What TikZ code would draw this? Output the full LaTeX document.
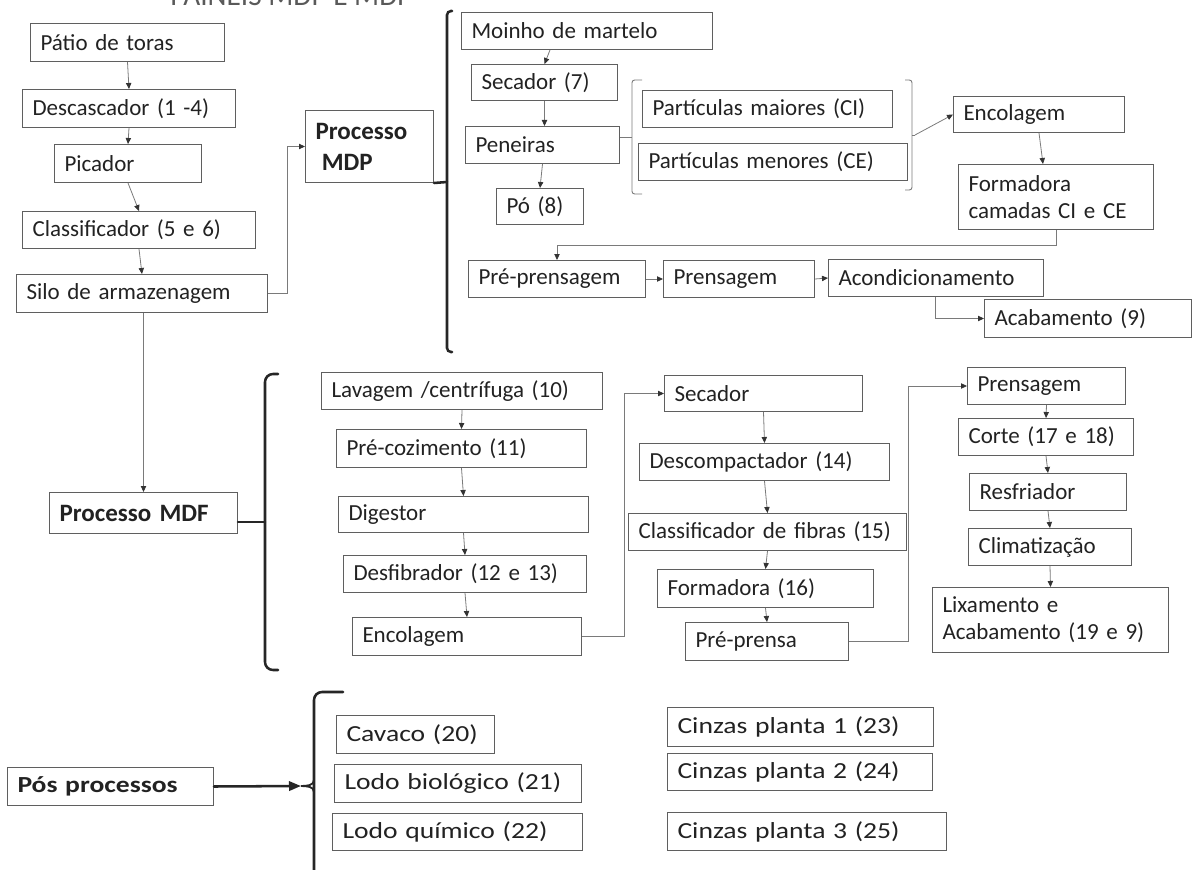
\documentclass[tikz,border=0pt]{standalone}
\usepackage{fontspec}
\setmainfont{Carlito}
\newfontfamily\widefont{Carlito}[FakeStretch=1.2]
\usetikzlibrary{arrows.meta,calc}
\definecolor{boxline}{HTML}{5F5F5F}
\definecolor{linkline}{HTML}{7A7A7A}
\definecolor{ink}{HTML}{222222}

\begin{document}
\begin{tikzpicture}[x=0.75pt, y=-0.75pt,
        box/.style args={#1/#2}{draw=boxline, line width=0.75pt, anchor=north west,
            align=left, inner xsep=7.5pt, inner ysep=0pt, text=ink,
            text width={(#1-20)*0.75pt}, minimum height={#2*0.75pt},
            font=\fontsize{17.25pt}{20.25pt}\selectfont},
        bold/.style={font=\fontsize{18.75pt}{23.25pt}\selectfont\bfseries},
        wide/.style={font=\fontsize{17.25pt}{20.25pt}\selectfont\widefont},
        widebold/.style={font=\fontsize{17.25pt}{20.25pt}\selectfont\widefont\bfseries},
        flow/.style={draw=linkline, line width=0.6pt,
            -{Triangle[length=4.5pt,width=4pt,color=black!80]}},
        brace/.style={draw=black!85, line width=1.9pt, line cap=round},
        thinbr/.style={draw=linkline, line width=0.7pt}
    ]
        \useasboundingbox (0,0) rectangle (1192,870);

        % titulo (cortado no topo)
        \node[anchor=base west, inner sep=0pt, text=ink!75,
            font=\fontsize{22pt}{24pt}\selectfont] (titulo) at (170,6) {PAINÉIS MDP E MDF};

        % preparo da madeira
        \node[box=194/38] (patio) at (30,23) {Pátio de toras};
        \node[box=213/38] (descasc) at (22,89) {Descascador (1 -4)};
        \node[box=147/38] (picador) at (54,144) {Picador};
        \node[box=233/37] (classif) at (22,211) {Classificador (5 e 6)};
        \node[box=251/38] (silo) at (16,274) {Silo de armazenagem};

        \draw[flow] (patio.south) -- (descasc.north);
        \draw[flow] (descasc.south) -- (picador.north);
        \draw[flow] (picador.south) -- (classif.north);
        \draw[flow] (classif.south) -- (silo.north);

        % processo MDP
        \node[box=128/72, bold] (mdp) at (305,110) {Processo\\\hspace*{0.25em}MDP};
        \draw[flow] (silo.east) -- ++(19,0) |- (mdp.west);

        \coordinate (mdpbr) at (447,182);
        \draw[brace] (mdp.south east) -- (mdpbr);
        \draw[brace, rounded corners=3pt] (452,11) -- (447,11) -- (447,352) -- (452,352);

        \node[box=251/37] (moinho) at (461,12) {Moinho de martelo};
        \node[box=146/36] (secmdp) at (471,64) {Secador (7)};
        \node[box=154/37] (peneiras) at (465,126) {Peneiras};
        \node[box=87/36] (po) at (496,188) {Pó (8)};
        \node[box=250/37] (maiores) at (642,90) {Partículas maiores (CI)};
        \node[box=269/37] (menores) at (638,143) {Partículas menores (CE)};
        \node[box=171/36] (encmdp) at (953,96) {Encolagem};
        \node[box=195/65] (formmdp) at (958,164) {Formadora\\camadas CI e CE};
        \node[box=177/37] (preprens) at (468,260) {Pré-prensagem};
        \node[box=151/37] (prensmdp) at (663,260) {Prensagem};
        \node[box=215/37] (acond) at (828,259) {Acondicionamento};
        \node[box=207/38] (acab) at (984,299) {Acabamento (9)};

        \draw[flow] ($(moinho.south west)+(89,0)$) -- (secmdp.north);
        \draw[flow] (secmdp.south) -- (secmdp.south |- peneiras.north);
        \draw[flow] (peneiras.south) -- (po.north);

        % chaves das particulas
        \coordinate (brL) at (632,137);
        \coordinate (brR) at (915,135);
        \draw[thinbr] (peneiras.east |- brL) -- (brL);
        \draw[thinbr, rounded corners=2pt] (642,80) -- (632,80) -- (632,194) -- (642,194);
        \draw[thinbr, rounded corners=2pt] (905,80) -- (912,80) -- (912,190) -- (905,190);
        \draw[thinbr] (912,135) -- (brR);
        \draw[flow] (brR) -- (encmdp.west);

        \draw[flow] (encmdp.south) -- ($(formmdp.north west)+(85,0)$);
        \draw[flow] (formmdp.south) -- ++(0,15) -| (preprens.north);
        \draw[flow] (preprens.east) -- (prensmdp.west);
        \draw[flow] (prensmdp.east) -- (acond.west);
        \draw[flow] ($(acond.south west)+(107,0)$) |- (acab.west);

        % processo MDF
        \node[box=188/41, bold] (mdf) at (49,492) {Processo MDF};
        \draw[flow] (silo.south -| mdf.north) -- (mdf.north);

        \coordinate (mdfbr) at (265,522);
        \draw[brace] (mdf.east |- mdfbr) -- (mdfbr);
        \draw[brace, rounded corners=6pt] (278,374) -- (265,374) -- (265,670) -- (278,670);

        \node[box=281/37] (lavagem) at (321,372) {Lavagem /centrífuga (10)};
        \node[box=250/38] (precoz) at (336,429) {Pré-cozimento (11)};
        \node[box=250/36] (digestor) at (338,496) {Digestor};
        \node[box=243/37] (desfib) at (343,555) {Desfibrador (12 e 13)};
        \node[box=229/38] (encmdf) at (352,617) {Encolagem};

        \draw[flow] (lavagem.south) -- (precoz.north);
        \draw[flow] (precoz.south) -- (digestor.north);
        \draw[flow] (digestor.south) -- (desfib.north);
        \draw[flow] (desfib.south) -- (encmdf.north);

        \node[box=198/36] (secmdf) at (664,375) {Secador};
        \node[box=250/37] (descomp) at (639,443) {Descompactador (14)};
        \node[box=278/37] (classfib) at (628,513) {Classificador de fibras (15)};
        \node[box=216/38] (formmdf) at (657,569) {Formadora (16)};
        \node[box=163/38] (preprensa) at (685,622) {Pré-prensa};

        \draw[flow] (encmdf.east) -- ++(42,0) |- (secmdf.west);
        \draw[flow] (secmdf.south) -- (descomp.north);
        \draw[flow] (descomp.south) -- (classfib.north);
        \draw[flow] (classfib.south) -- (formmdf.north);
        \draw[flow] (formmdf.south) -- (preprensa.north);

        \node[box=158/37] (prensmdf) at (967,367) {Prensagem};
        \node[box=175/37] (corte) at (958,418) {Corte (17 e 18)};
        \node[box=157/37] (resfr) at (969,473) {Resfriador};
        \node[box=163/37] (climat) at (968,528) {Climatização};
        \node[box=236/65] (lixam) at (932,587) {Lixamento e\\Acabamento (19 e 9)};

        \draw[flow] (preprensa.east) -- ++(59,0) |- (prensmdf.west);
        \draw[flow] (prensmdf.south) -- (corte.north);
        \draw[flow] (corte.south) -- (resfr.north);
        \draw[flow] (resfr.south) -- (climat.north);
        \draw[flow] (climat.south) -- (lixam.north);

        % pos processos
        \node[box=206/38, widebold] (pos) at (7,767) {Pós processos};
        \coordinate (posbr) at (301,786);
        \draw[brace, -{Triangle[length=9pt,width=7pt]}] (pos.east) -- (posbr);
        \draw[brace, rounded corners=6pt] (343,692) -- (314,692) -- (314,880);
        \draw[brace, line width=1.4pt] (314,780) to[out=-90,in=0] (posbr) to[out=0,in=90] (314,792);

        \node[box=158/38, wide] (cavaco) at (336,715) {Cavaco (20)};
        \node[box=247/38, wide] (lodobio) at (334,764) {Lodo biológico (21)};
        \node[box=250/37, wide] (lodoqui) at (332,813) {Lodo químico (22)};
        \node[box=266/39, wide] (cinzas1) at (667,707) {Cinzas planta 1 (23)};
        \node[box=265/37, wide] (cinzas2) at (667,753) {Cinzas planta 2 (24)};
        \node[box=279/38, wide] (cinzas3) at (667,812) {Cinzas planta 3 (25)};
    \end{tikzpicture}
\end{document}
